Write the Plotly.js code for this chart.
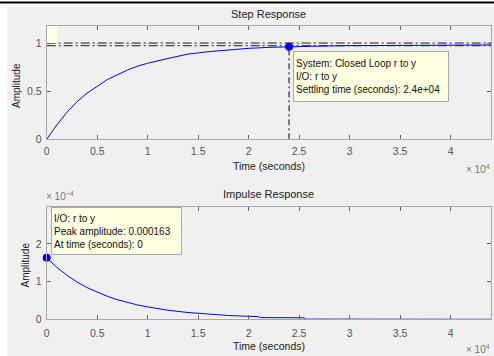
<!DOCTYPE html>
<html><head><meta charset="utf-8">
<script src="https://cdn.plot.ly/plotly-3.0.1.min.js"></script>
<style>html,body{margin:0;padding:0;background:#fff}#c{width:494px;height:356px}</style>
</head><body><div id="c"></div>
<script>
// ---- data ----
const stepTime = [0,1000,2000,3000,4000,5000,6000,7000,8000,9000,10000,12000,14000,16000,18000,20000,22000,24000,27000,30000,34000,38000,44000];
const stepAmp  = [0,0.15,0.28,0.39,0.48,0.55,0.62,0.67,0.72,0.76,0.79,0.84,0.885,0.91,0.93,0.945,0.955,0.962,0.968,0.973,0.977,0.979,0.98];
const impTime  = [0,1000,2000,3000,4000,5000,6000,7000,8000,9000,10000,12000,14000,16000,18000,21000,21100,25500,25600,44000];
const impAmp   = [1.63e-4,1.38e-4,1.17e-4,0.99e-4,0.84e-4,0.72e-4,0.61e-4,0.52e-4,0.44e-4,0.38e-4,0.33e-4,0.24e-4,0.18e-4,0.13e-4,0.10e-4,0.07e-4,0.045e-4,0.04e-4,0.005e-4,0];
const settleTime = 24000, settleAmp = 0.962;
const upperBound = 1.0, finalValue = 0.972;
const peakTime = 0, peakAmp = 1.63e-4;
const xTickVals = [0,5000,10000,15000,20000,25000,30000,35000,40000];
const xTickText = ['0','0.5','1','1.5','2','2.5','3','3.5','4'];
const y1TickVals = [0,0.5,1];
const y1TickText = ['0','0.5','1'];
const y2TickVals = [0,1e-4,2e-4,3e-4];
const y2TickText = ['0','1','2','3'];
const xMax = 44000;

// ---- layout helpers (pixel -> paper) ----
const W=494,H=356;
const px=p=>p/W, py=p=>1-p/H;
const FONT='Liberation Sans, Arial, sans-serif';
const blue='#0000ff';
const dd='9px,3px,2px,3px';

const traces=[
 {x:[0,xMax],y:[upperBound,upperBound],mode:'lines',line:{color:'#000',width:0.9,dash:dd},xaxis:'x',yaxis:'y',hoverinfo:'skip'},
 {x:[0,xMax],y:[finalValue,finalValue],mode:'lines',line:{color:'#000',width:0.9,dash:dd},xaxis:'x',yaxis:'y',hoverinfo:'skip'},
 {x:[settleTime,settleTime],y:[0,settleAmp],mode:'lines',line:{color:'#000',width:1,dash:'6px,3px,2px,3px'},xaxis:'x',yaxis:'y',hoverinfo:'skip'},
 {x:stepTime,y:stepAmp,mode:'lines',line:{color:blue,width:1},xaxis:'x',yaxis:'y'},
 {x:[settleTime],y:[settleAmp],mode:'markers',marker:{color:blue,size:8},xaxis:'x',yaxis:'y'},
 {x:impTime,y:impAmp,mode:'lines',line:{color:blue,width:1,shape:'linear'},xaxis:'x2',yaxis:'y2'},
 {x:[peakTime],y:[peakAmp],mode:'markers',marker:{color:blue,size:8},xaxis:'x2',yaxis:'y2',cliponaxis:false}
];

const axCommon={showgrid:false,zeroline:false,showline:true,linecolor:'#a8a8a8',linewidth:1,mirror:'ticks',
  ticks:'inside',ticklen:4,tickcolor:'#666',tickfont:{family:FONT,size:10.5,color:'#555'},fixedrange:true};

const layout={
 width:W,height:H,margin:{l:0,r:0,t:0,b:0},showlegend:false,
 paper_bgcolor:'#fff',plot_bgcolor:'#fff',
 xaxis:Object.assign({},axCommon,{domain:[px(46.7),px(491)],range:[0,xMax],tickmode:'array',tickvals:xTickVals,ticktext:xTickText,anchor:'y',ticklabelstandoff:2}),
 yaxis:Object.assign({},axCommon,{domain:[py(139.3),py(26)],range:[0,1.177],tickmode:'array',tickvals:y1TickVals,ticktext:y1TickText,anchor:'x',ticklabelstandoff:2}),
 xaxis2:Object.assign({},axCommon,{domain:[px(46.7),px(491)],range:[0,xMax],tickmode:'array',tickvals:xTickVals,ticktext:xTickText,anchor:'y2',ticklabelstandoff:4}),
 yaxis2:Object.assign({},axCommon,{domain:[py(319.3),py(207)],range:[0,2.98e-4],tickmode:'array',tickvals:y2TickVals,ticktext:y2TickText,anchor:'x2',ticklabelstandoff:2}),
 shapes:[
  {type:'rect',xref:'paper',yref:'paper',x0:px(7),x1:1,y0:0,y1:py(7),fillcolor:'#f0f0f0',line:{width:0},layer:'below'},
  {type:'line',xref:'paper',yref:'paper',x0:0,x1:1,y0:py(2.5),y1:py(2.5),line:{color:'#000',width:2}},
  {type:'rect',xref:'paper',yref:'paper',x0:px(47),x1:px(57),y0:py(43),y1:py(26.5),fillcolor:'#ffffe1',line:{width:0}}
 ],
 annotations:[
  {text:'Step Response',xref:'paper',yref:'paper',x:px(268.8),y:py(14),xanchor:'center',yanchor:'middle',showarrow:false,font:{family:FONT,size:11,color:'#222'}},
  {text:'Impulse Response',xref:'paper',yref:'paper',x:px(268.8),y:py(194),xanchor:'center',yanchor:'middle',showarrow:false,font:{family:FONT,size:11,color:'#222'}},
  {text:'Time (seconds)',xref:'paper',yref:'paper',x:px(268.8),y:py(165.5),xanchor:'center',yanchor:'middle',showarrow:false,font:{family:FONT,size:10.5,color:'#222'}},
  {text:'Time (seconds)',xref:'paper',yref:'paper',x:px(268.8),y:py(345.5),xanchor:'center',yanchor:'middle',showarrow:false,font:{family:FONT,size:10.5,color:'#222'}},
  {text:'Amplitude',xref:'paper',yref:'paper',x:px(16),y:py(86),xanchor:'center',yanchor:'middle',textangle:-90,showarrow:false,font:{family:FONT,size:10,color:'#222'}},
  {text:'Amplitude',xref:'paper',yref:'paper',x:px(24.5),y:py(265),xanchor:'center',yanchor:'middle',textangle:-90,showarrow:false,font:{family:FONT,size:10,color:'#222'}},
  {text:'× 10<sup>4</sup>',xref:'paper',yref:'paper',x:px(492),y:py(169),xanchor:'right',yanchor:'middle',showarrow:false,font:{family:FONT,size:10,color:'#777'}},
  {text:'× 10<sup>4</sup>',xref:'paper',yref:'paper',x:px(492),y:py(349),xanchor:'right',yanchor:'middle',showarrow:false,font:{family:FONT,size:10,color:'#777'}},
  {text:'× 10<sup>−4</sup>',xref:'paper',yref:'paper',x:px(44),y:py(196),xanchor:'left',yanchor:'middle',showarrow:false,font:{family:FONT,size:10,color:'#777'}},
  {text:'System: Closed Loop r to y<br>I/O: r to y<br>Settling time (seconds): 2.4e+04',xref:'paper',yref:'paper',x:px(293),y:py(51),xanchor:'left',yanchor:'top',align:'left',valign:'middle',showarrow:false,width:150,height:45,borderpad:2,bgcolor:'#ffffe1',bordercolor:'#a8a8a8',borderwidth:1,font:{family:FONT,size:10,color:'#111'}},
  {text:'I/O: r to y<br>Peak amplitude: 0.000163<br>At time (seconds): 0',xref:'paper',yref:'paper',x:px(50.7),y:py(207),xanchor:'left',yanchor:'top',align:'left',valign:'middle',showarrow:false,width:125,height:42,borderpad:2,bgcolor:'#ffffe1',bordercolor:'#a8a8a8',borderwidth:1,font:{family:FONT,size:10,color:'#111'}}
 ]
};
Plotly.newPlot('c',traces,layout,{staticPlot:true,displayModeBar:false});
</script></body></html>
